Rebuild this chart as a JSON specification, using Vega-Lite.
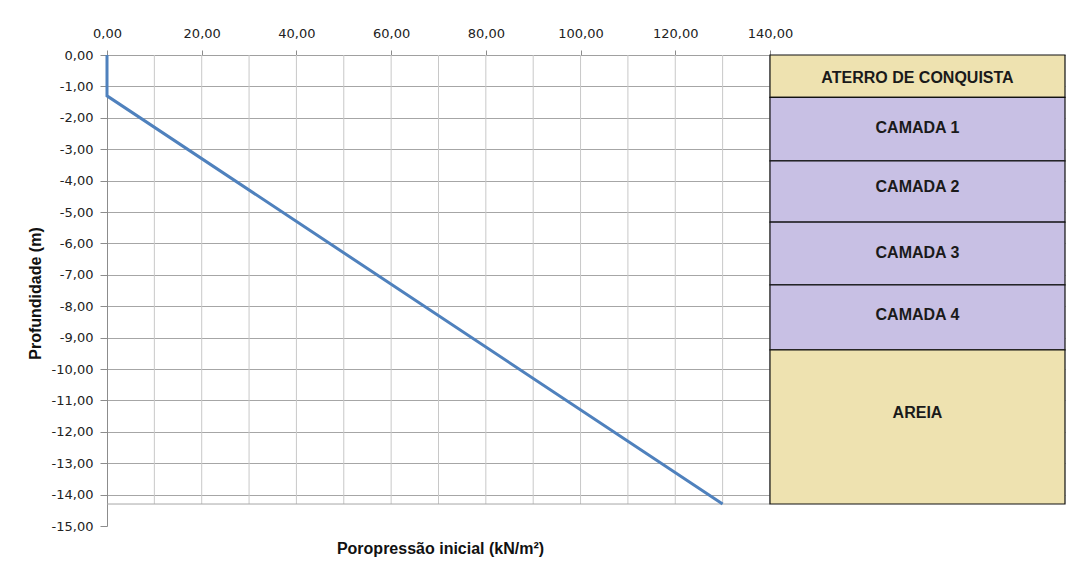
{
  "$schema": "https://vega.github.io/schema/vega-lite/v6.json",
  "width": 958,
  "height": 471,
  "autosize": "none",
  "padding": {"left": 107, "top": 55, "right": 17, "bottom": 50},
  "background": "white",
  "config": {"view": {"stroke": null}, "font": "DejaVu Sans", "axis": {"labelOverlap": false}},
  "datasets": {
    "profile": [
      {"i": 0, "u": 0, "z": 0},
      {"i": 1, "u": 0, "z": -1.3},
      {"i": 2, "u": 130, "z": -14.3}
    ],
    "camadas": [
      {"camada": "ATERRO DE CONQUISTA", "tipo": "aterro", "top": 0, "base": -1.35, "label_z": -0.73},
      {"camada": "CAMADA 1", "tipo": "argila", "top": -1.35, "base": -3.37, "label_z": -2.33},
      {"camada": "CAMADA 2", "tipo": "argila", "top": -3.37, "base": -5.32, "label_z": -4.21},
      {"camada": "CAMADA 3", "tipo": "argila", "top": -5.32, "base": -7.32, "label_z": -6.3},
      {"camada": "CAMADA 4", "tipo": "argila", "top": -7.32, "base": -9.39, "label_z": -8.27},
      {"camada": "AREIA", "tipo": "areia", "top": -9.39, "base": -14.3, "label_z": -11.39}
    ],
    "grid": [
      {"u": 10}, {"u": 20}, {"u": 30}, {"u": 40}, {"u": 50}, {"u": 60}, {"u": 70},
      {"u": 80}, {"u": 90}, {"u": 100}, {"u": 110}, {"u": 120}, {"u": 130}, {"u": 140}
    ]
  },
  "layer": [
    {
      "data": {"name": "grid"},
      "mark": {"type": "rule", "color": "#c8c8c8", "strokeWidth": 1},
      "encoding": {
        "x": {"field": "u", "type": "quantitative"},
        "y": {"datum": 0, "type": "quantitative"},
        "y2": {"datum": -14.3}
      }
    },
    {
      "data": {"values": [{"z": -14.3}]},
      "mark": {"type": "rule", "color": "#a6a6a6", "strokeWidth": 1},
      "encoding": {
        "y": {"field": "z", "type": "quantitative"},
        "x": {"datum": 0, "type": "quantitative"},
        "x2": {"datum": 140}
      }
    },
    {
      "data": {"name": "profile"},
      "mark": {"type": "line", "color": "#4F81BD", "strokeWidth": 3},
      "encoding": {
        "order": {"field": "i"},
        "x": {
          "field": "u",
          "type": "quantitative",
          "scale": {"domain": [0, 202.3], "nice": false, "zero": false},
          "axis": {
            "orient": "top",
            "values": [0, 10, 20, 30, 40, 50, 60, 70, 80, 90, 100, 110, 120, 130, 140],
            "tickCount": 40,
            "labelExpr": "datum.value % 20 == 0 ? replace(format(datum.value, '.2f'), '.', ',') : ''",
            "labelOverlap": false,
            "labelFlush": false,
            "grid": false,
            "tickSize": 5,
            "tickColor": {"condition": {"test": "datum.value % 20 != 0", "value": "transparent"}, "value": "#8c8c8c"},
            "domainColor": "#a0a0a0",
            "labelPadding": 10,
            "labelFont": "DejaVu Sans",
            "labelFontSize": 13,
            "labelColor": "#222222",
            "title": "Poropressão inicial (kN/m²)",
            "titleFont": "Liberation Sans",
            "titleFontSize": 16,
            "titleFontWeight": "bold",
            "titleColor": "#111111",
            "titleX": 333,
            "titleY": 493,
            "titleAlign": "center",
            "titleBaseline": "middle",
            "titleAngle": 0
          }
        },
        "y": {
          "field": "z",
          "type": "quantitative",
          "scale": {"domain": [-15, 0], "nice": false, "zero": false},
          "axis": {
            "values": [-15, -14, -13, -12, -11, -10, -9, -8, -7, -6, -5, -4, -3, -2, -1, 0],
            "tickCount": 40,
            "labelExpr": "replace(replace(format(datum.value, '.2f'), '.', ','), '−', '-')",
            "labelOverlap": false,
            "labelFlush": false,
            "grid": true,
            "gridColor": {"condition": {"test": "datum.value < -14.5", "value": "transparent"}, "value": "#a6a6a6"},
            "tickSize": 7,
            "tickColor": "#8c8c8c",
            "domainColor": "#8c8c8c",
            "labelPadding": 7,
            "labelFont": "DejaVu Sans",
            "labelFontSize": 13,
            "labelColor": "#222222",
            "title": "Profundidade (m)",
            "titleFont": "Liberation Sans",
            "titleFontSize": 16,
            "titleFontWeight": "bold",
            "titleColor": "#111111",
            "titleX": -72,
            "titleY": 238,
            "titleAngle": -90,
            "titleAlign": "center",
            "titleBaseline": "middle"
          }
        }
      }
    },
    {
      "data": {"name": "camadas"},
      "mark": {"type": "rect", "stroke": "#111111", "strokeWidth": 1.2},
      "encoding": {
        "x": {"datum": 140, "type": "quantitative"},
        "x2": {"datum": 202.3},
        "y": {"field": "top", "type": "quantitative"},
        "y2": {"field": "base"},
        "fill": {
          "field": "tipo",
          "type": "nominal",
          "scale": {"domain": ["aterro", "argila", "areia"], "range": ["#EEE2B0", "#C8C0E4", "#EEE2B0"]},
          "legend": null
        }
      }
    },
    {
      "data": {"name": "camadas"},
      "mark": {"type": "text", "font": "Liberation Sans", "fontSize": 16, "fontWeight": "bold", "color": "#1a1a1a", "align": "center", "baseline": "middle"},
      "encoding": {
        "x": {"datum": 171.15, "type": "quantitative"},
        "y": {"field": "label_z", "type": "quantitative"},
        "text": {"field": "camada"}
      }
    }
  ]
}
